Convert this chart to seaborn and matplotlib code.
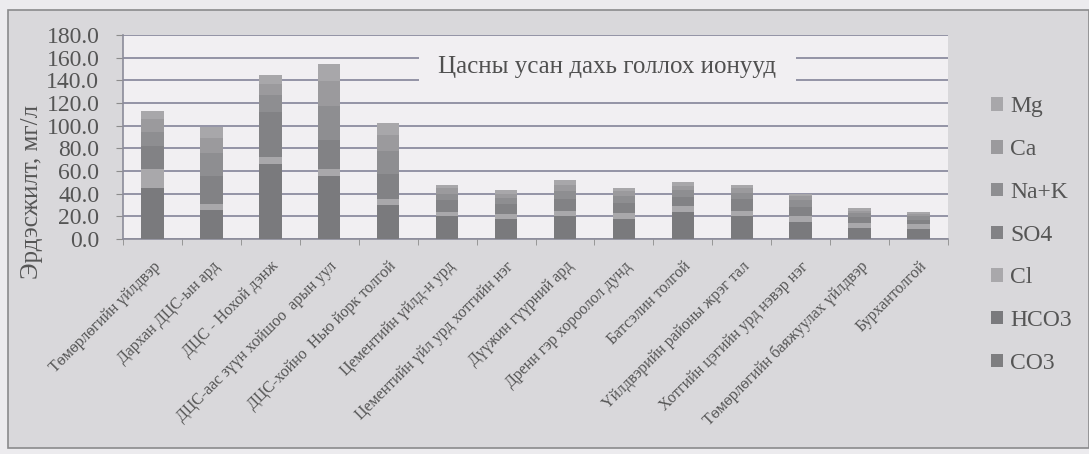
import matplotlib
matplotlib.use("Agg")
import matplotlib.pyplot as plt
import matplotlib.patches as mpatches
import numpy as np
import pandas as pd
import seaborn as sns

categories = [
    "Төмөрлөгийн үйлдвэр",
    "Дархан ДЦС-ын ард",
    "ДЦС - Нохой дэнж",
    "ДЦС-аас зүүн хойшоо  арын уул",
    "ДЦС-хойно  Нью йорк толгой",
    "Цементийн үйлд-н урд",
    "Цементийн үйл урд хотгийн нэг",
    "Дүүжин гүүрний ард",
    "Дренн гэр хороолол дунд",
    "Батсэлин толгой",
    "Үйлдвэрийн районы жрэг тал",
    "Хотгийн цэгийн урд нэвэр нэг",
    "Төмөрлөгийн баяжуулах үйлдвэр",
    "Бурхантолгой",
]
series_names = ["CO3", "HCO3", "Cl", "SO4", "Na+K", "Ca", "Mg"]
CO3  = [0, 0, 0, 0, 0, 0, 0, 0, 0, 0, 0, 0, 0, 0]
HCO3 = [45, 26, 66, 56, 30, 20, 18, 20, 18, 24, 20, 15, 10, 9]
Cl   = [17, 5, 6, 6, 5, 4, 4, 5, 5, 5, 5, 5, 4, 4]
SO4  = [20, 25, 40, 25, 22, 10, 9, 10, 9, 8, 10, 8, 5, 4]
NaK  = [12, 20, 15, 30, 21, 6, 5, 7, 6, 6, 6, 6, 4, 3]
Ca   = [12, 13, 10, 22, 14, 5, 4, 6, 4, 4, 4, 4, 2, 2]
Mg   = [7, 10, 8, 15, 10, 3, 3, 4, 3, 3, 3, 2, 2, 2]
yticks = [0, 20, 40, 60, 80, 100, 120, 140, 160, 180]

values = [CO3, HCO3, Cl, SO4, NaK, Ca, Mg]
colors = {"CO3": "#7e7e80", "HCO3": "#7a7a7d", "Cl": "#a9a8ab", "SO4": "#828285",
          "Na+K": "#8e8e91", "Ca": "#9b9a9d", "Mg": "#a8a7aa"}

W, H = 1089, 454
fig = plt.figure(figsize=(W / 100, H / 100), dpi=100)
fig.patch.set_facecolor("#ecebee")
fig.patches.append(mpatches.Rectangle((8 / W, 1 - 448 / H), (W - 8) / W, (448 - 10) / H,
                                      transform=fig.transFigure, facecolor="#d9d8db",
                                      edgecolor="#8a8a8c", linewidth=1.2, zorder=-5))

ax = fig.add_axes([123 / W, 1 - 239 / H, (948 - 123) / W, (239 - 35) / H])
ax.set_zorder(2)
ax.set_facecolor("#f1eff2")

cum = np.zeros(len(categories))
cums = []
for name, v in zip(series_names, values):
    cum = cum + np.array(v, dtype=float)
    cums.append((name, cum.copy()))

for name, c in reversed(cums):
    d = pd.DataFrame({"cat": categories, "val": c})
    sns.barplot(data=d, x="cat", y="val", order=categories, color=colors[name],
                width=0.38, saturation=1, ax=ax, zorder=3, linewidth=0)

ax.set_ylim(0, 180)
ax.set_xlim(-0.5, len(categories) - 0.5)
ax.set_yticks(yticks)
ax.set_yticklabels([f"{t:.1f}" for t in yticks], fontsize=17, family="Liberation Serif",
                   color="#555555")
ax.yaxis.grid(True, color="#8c8ca0", linewidth=1.3, zorder=1)
ax.set_axisbelow(True)
ax.tick_params(axis="y", length=5, color="#8c8c8c", pad=12)
ax.set_xticks(range(len(categories)))
ax.set_xticklabels(categories, rotation=45, ha="right", rotation_mode="anchor",
                   fontsize=11.5, family="Liberation Serif", color="#555555")
ax.tick_params(axis="x", length=0, pad=14)
ax.set_xticks(np.arange(-0.5, len(categories), 1), minor=True)
ax.tick_params(axis="x", which="minor", length=4, color="#8c8c8c")
ax.set_xlabel("")
ax.set_ylabel("")
for s in ["top", "right"]:
    ax.spines[s].set_visible(False)
for s in ["left", "bottom"]:
    ax.spines[s].set_color("#8c8c9a")
    ax.spines[s].set_linewidth(1.2)

ax.text(0.587, 151.8, "Цасны усан дахь голлох ионууд", transform=ax.get_yaxis_transform(),
        ha="center", va="center", fontsize=18, family="Liberation Serif", color="#505050",
        bbox=dict(facecolor="#f1eff2", edgecolor="none", pad=14), zorder=5)

fig.text(32 / W, 1 - 192 / H, "Эрдэсжилт, мг/л", rotation=90, ha="center", va="center",
         fontsize=18, family="Liberation Serif", color="#555555")

handles = [mpatches.Patch(facecolor=colors[n], edgecolor="none", label=n)
           for n in reversed(series_names)]
leg = fig.legend(handles=handles, loc="upper left", bbox_to_anchor=(982 / W, 1 - 87 / H),
                 frameon=False, fontsize=17, labelspacing=0.92, handlelength=0.5,
                 handleheight=0.5, handletextpad=0.3, borderaxespad=0)
for t in leg.get_texts():
    t.set_family("Liberation Serif")
    t.set_color("#555555")

fig.savefig("out.png", dpi=100, facecolor=fig.get_facecolor())
